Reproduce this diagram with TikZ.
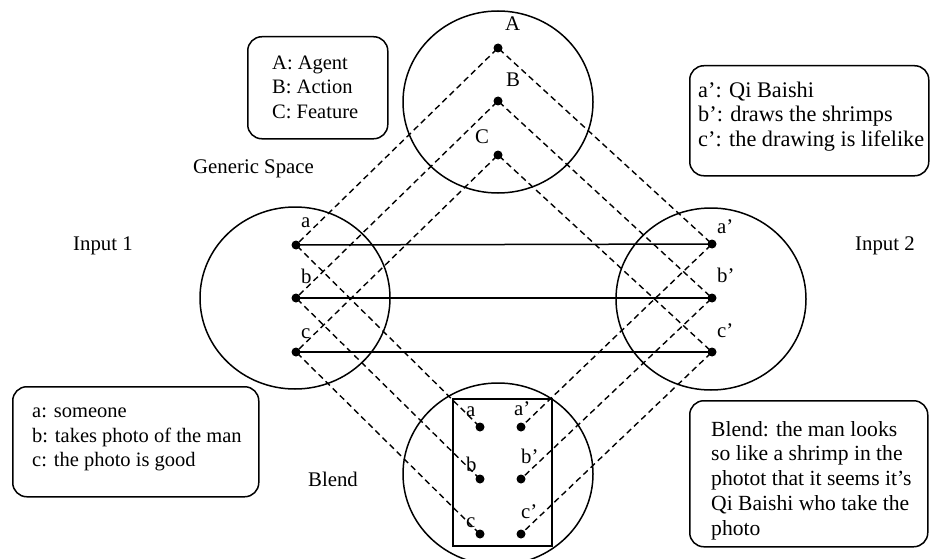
\documentclass[tikz,border=0pt]{standalone}
\usepackage{fontspec}
\setmainfont{Liberation Serif}
\usetikzlibrary{shapes.geometric}

\tikzset{
  space/.style={ellipse, draw, line width=1.5pt, minimum width=190pt, minimum height=182pt, inner sep=0pt},
  dot/.style={circle, fill=black, inner sep=0pt, minimum size=9pt},
  map/.style={line width=1.4pt, dash pattern=on 6pt off 4pt, shorten <=-3pt, shorten >=-3pt},
  link/.style={line width=1.5pt, shorten <=-3pt, shorten >=-3pt},
  note/.style={draw, line width=1.5pt, rounded corners=14pt, inner sep=0pt},
  lbl/.style={anchor=base west, inner sep=0pt, font=\fontsize{20.8}{24.7}\selectfont},
  para/.style={anchor=north west, inner sep=0pt, align=left, font=\fontsize{20.5}{24.7}\selectfont},
}

\begin{document}
\begin{tikzpicture}[x=1pt, y=-1pt]
\useasboundingbox (0,0) rectangle (931,559);

% the four spaces
\node[space] (gen) at (498,102) {};
\node[space] (in1) at (295,298) {};
\node[space] (in2) at (711,299) {};
\node[space] (bln) at (498,474) {};
\draw[line width=1.5pt] (453,399) rectangle (552,546);

% elements of each space
\node[dot] (gA) at (498,48) {};
\node[dot] (gB) at (498,101) {};
\node[dot] (gC) at (498,155) {};
\node[dot] (ia) at (296,245) {};
\node[dot] (ib) at (296,298) {};
\node[dot] (ic) at (296,352) {};
\node[dot] (oa) at (712,244) {};
\node[dot] (ob) at (712,298) {};
\node[dot] (oc) at (712,352) {};
\node[dot] (ba) at (480,427) {};
\node[dot] (bb) at (480,479) {};
\node[dot] (bc) at (480,534) {};
\node[dot] (bap) at (521,427) {};
\node[dot] (bbp) at (521,479) {};
\node[dot] (bcp) at (521,534) {};

% element letters
\node[lbl] at (505,31) {A};
\node[lbl] at (506,87) {B};
\node[lbl] at (475,143) {C};
\node[lbl] at (301,227) {a};
\node[lbl] at (301,283) {b};
\node[lbl] at (301,338) {c};
\node[lbl] at (717,233) {a’};
\node[lbl] at (717,282) {b’};
\node[lbl] at (717,337) {c’};
\node[lbl] at (466,416) {a};
\node[lbl] at (466,471) {b};
\node[lbl] at (466,527) {c};
\node[lbl] at (514,415) {a’};
\node[lbl] at (521,463) {b’};
\node[lbl] at (521,518) {c’};

% cross-space mappings
\draw[link] (ia) -- (oa);
\draw[link] (ib) -- (ob);
\draw[link] (ic) -- (oc);
\draw[map] (gA) -- (ia);
\draw[map] (gA) -- (oa);
\draw[map] (gB) -- (ib);
\draw[map] (gB) -- (ob);
\draw[map] (gC) -- (ic);
\draw[map] (gC) -- (oc);
\draw[map] (ia) -- (ba);
\draw[map] (ib) -- (bb);
\draw[map] (ic) -- (bc);
\draw[map] (oa) -- (bap);
\draw[map] (ob) -- (bbp);
\draw[map] (oc) -- (bcp);

% space names
\node[lbl] (tgen) at (193,173) {Generic Space};
\node[lbl] (tin1) at (73,250) {Input 1};
\node[lbl] (tin2) at (855,250) {Input 2};
\node[lbl] (tbln) at (308,486) {Blend};

% legend boxes
\node[note, minimum width=140pt, minimum height=102pt, anchor=north west] (n1) at (247,36) {};
\node[para] at (272,55.5) {A: Agent\\B: Action\\C: Feature};

\node[note, minimum width=239pt, minimum height=110pt, anchor=north west] (n2) at (689,65) {};
\node[para, font=\fontsize{22.3}{24.6}\selectfont] at (698,81.5) {a’: Qi Baishi\\b’: draws the shrimps\\c’: the drawing is lifelike};

\node[note, minimum width=246pt, minimum height=110pt, anchor=north west] (n3) at (12,386) {};
\node[para] at (32,407.5) {a: someone\\b: takes photo of the man\\c: the photo is good};

\node[note, minimum width=238pt, minimum height=146pt, anchor=north west] (n4) at (689,400) {};
\node[para, font=\fontsize{21.6}{24.75}\selectfont] at (711,421) {Blend: the man looks\\so like a shrimp in the\\photot that it seems it’s\\Qi Baishi who take the\\photo};
\end{tikzpicture}
\end{document}
